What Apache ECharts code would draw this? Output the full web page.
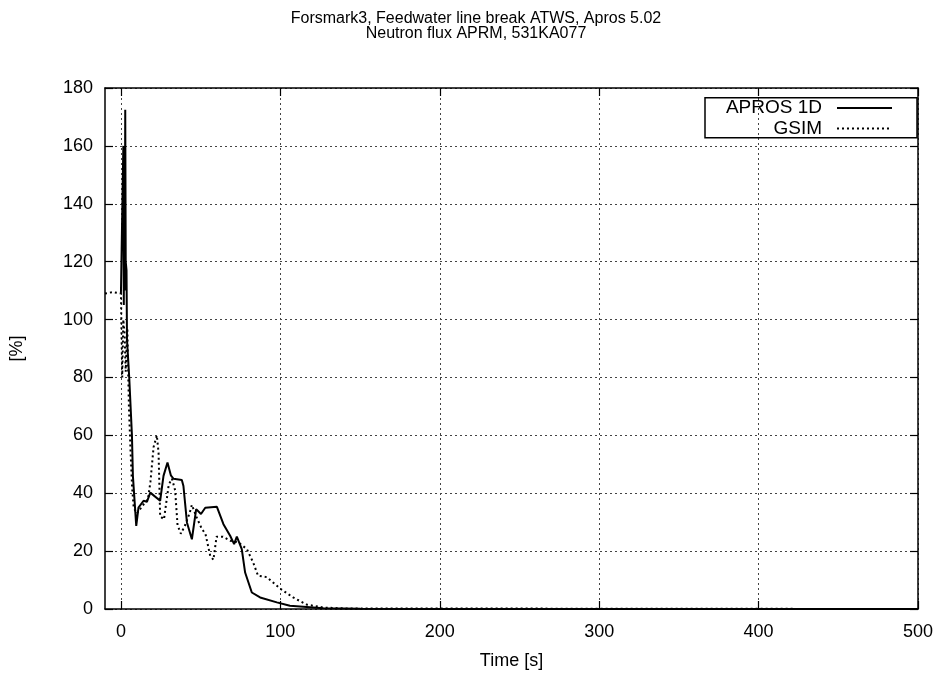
<!DOCTYPE html>
<html>
<head>
<meta charset="utf-8">
<script src="https://cdn.jsdelivr.net/npm/echarts@6/dist/echarts.min.js"></script>
<style>html,body{margin:0;padding:0;background:#fff}#c{width:940px;height:675px}</style>
</head>
<body>
<div id="c"></div>
<script>
const titleLines = ['Forsmark3, Feedwater line break ATWS, Apros 5.02', 'Neutron flux APRM, 531KA077'];
const xTitle = 'Time [s]';
const yTitle = '[%]';
const seriesNames = ['APROS 1D', 'GSIM'];

const aprosT = [0, 1.2, 1.5, 1.8, 2.1, 2.4, 2.7, 3.0, 3.5, 3.8, 5.2, 6.9, 7.5, 9.6, 11, 14.2, 16.3, 18.4, 24.6, 26.7, 29.2, 31.3, 33, 38.2, 39.2, 41.4, 44.5, 47.2, 50.2, 52.9, 60.2, 64.3, 68.5, 71, 72.7, 75.8, 77.9, 82.1, 87.3, 97.8, 106, 127, 150, 200, 500];
const aprosV = [109, 109, 160, 105, 158, 110, 172.5, 120, 117, 93, 80, 60, 46, 28.7, 35, 37.4, 37, 40.2, 37.4, 46, 50.6, 46.2, 45, 44.6, 42.5, 29.9, 24.1, 34.5, 32.8, 35, 35.3, 29.3, 25.3, 22.4, 25, 20.7, 12.6, 5.7, 4, 2.3, 1.1, 0.3, 0.1, 0, 0];

const gsimT = [-10, -5, 0, 0.8, 1.5, 2.3, 3, 4, 5, 6, 7, 8, 10, 14, 17, 18.5, 20.5, 22.5, 23.6, 24.6, 27, 30, 32, 34, 35.5, 37.6, 40.3, 43, 44.5, 47.2, 50.8, 53, 56, 58, 60, 64, 68.5, 73.7, 79, 83, 86, 91.5, 100, 108, 116.6, 127, 140, 500];
const gsimV = [109, 109.5, 109, 80, 100, 95, 82, 97, 70, 55, 42, 35, 33, 36, 38, 44, 56, 60, 54, 32, 31, 43, 45, 41, 29, 26, 29, 33, 36, 32, 27.6, 26, 18.4, 17, 25, 25, 23.6, 23, 20.7, 16, 11.5, 11, 7, 4, 1.5, 0.5, 0.2, 0];

const xMin = -10, xMax = 500;
const xTicks = [0, 100, 200, 300, 400, 500];
const yMin = 0, yMax = 180, yStep = 20;

const font = 'Liberation Sans, Arial, Helvetica, sans-serif';
const chart = echarts.init(document.getElementById('c'));

function pairs(t, v) { return t.map((x, i) => [x, v[i]]); }

const axisLineStyle = { show: true, onZero: false, lineStyle: { color: '#000', width: 1.5 } };
const tickStyle = { show: true, inside: true, length: 8, lineStyle: { color: '#000', width: 1.2 } };
const gridLine = { show: true, lineStyle: { color: '#444', width: 1, type: [2, 3] } };

const legendCommon = {
  right: 42, orient: 'vertical', align: 'right',
  itemWidth: 55, itemHeight: 14,
  itemStyle: { color: 'rgba(0,0,0,0)', borderWidth: 0 },
  textStyle: { fontFamily: font, fontSize: 19, color: '#000', padding: [0, 10, 0, 0] }
};

chart.setOption({
  animation: false,
  backgroundColor: '#fff',
  title: {
    text: titleLines.join('\n'),
    left: 471, top: 6, textAlign: 'center',
    textStyle: { fontFamily: font, fontSize: 16, fontWeight: 'normal', color: '#000', lineHeight: 15 }
  },
  grid: { left: 105, right: 22, top: 88, bottom: 65, containLabel: false },
  xAxis: [
    {
      type: 'value', min: xMin, max: xMax, position: 'bottom',
      axisLine: axisLineStyle,
      axisTick: Object.assign({ customValues: xTicks }, tickStyle),
      axisLabel: { customValues: xTicks, color: '#000', fontFamily: font, fontSize: 18, margin: 14 },
      splitLine: gridLine,
      name: xTitle, nameLocation: 'middle', nameGap: 43,
      nameTextStyle: { color: '#000', fontFamily: font, fontSize: 18 }
    },
    {
      type: 'value', min: xMin, max: xMax, position: 'top',
      axisLine: axisLineStyle,
      axisTick: Object.assign({ customValues: xTicks }, tickStyle),
      axisLabel: { show: false, customValues: xTicks },
      splitLine: { show: false }
    }
  ],
  yAxis: [
    {
      type: 'value', min: yMin, max: yMax, interval: yStep, position: 'left',
      axisLine: axisLineStyle, axisTick: tickStyle,
      axisLabel: { color: '#000', fontFamily: font, fontSize: 18, margin: 12 },
      splitLine: gridLine,
      name: yTitle, nameLocation: 'middle', nameGap: 79, nameRotate: 90,
      nameTextStyle: { color: '#000', fontFamily: font, fontSize: 18 }
    },
    {
      type: 'value', min: yMin, max: yMax, interval: yStep, position: 'right',
      axisLine: axisLineStyle, axisTick: tickStyle,
      axisLabel: { show: false }, splitLine: { show: false }
    }
  ],
  legend: [
    Object.assign({ data: [seriesNames[0]], top: 93.5 }, legendCommon),
    Object.assign({ data: [seriesNames[1]], top: 114 }, legendCommon)
  ],
  graphic: [{
    type: 'rect', z: 100,
    shape: { x: 705, y: 97.7, width: 212, height: 40 },
    style: { fill: 'none', stroke: '#000', lineWidth: 1.5 }
  }],
  series: [
    {
      name: seriesNames[0], type: 'line', data: pairs(aprosT, aprosV),
      symbol: 'none', showSymbol: false, smooth: false,
      lineStyle: { color: '#000', width: 2, type: 'solid' },
      itemStyle: { color: '#000' }, z: 3
    },
    {
      name: seriesNames[1], type: 'line', data: pairs(gsimT, gsimV),
      symbol: 'none', showSymbol: false, smooth: false,
      lineStyle: { color: '#000', width: 2, type: [2, 3] },
      itemStyle: { color: '#000' }, z: 2
    }
  ]
});
</script>
</body>
</html>
